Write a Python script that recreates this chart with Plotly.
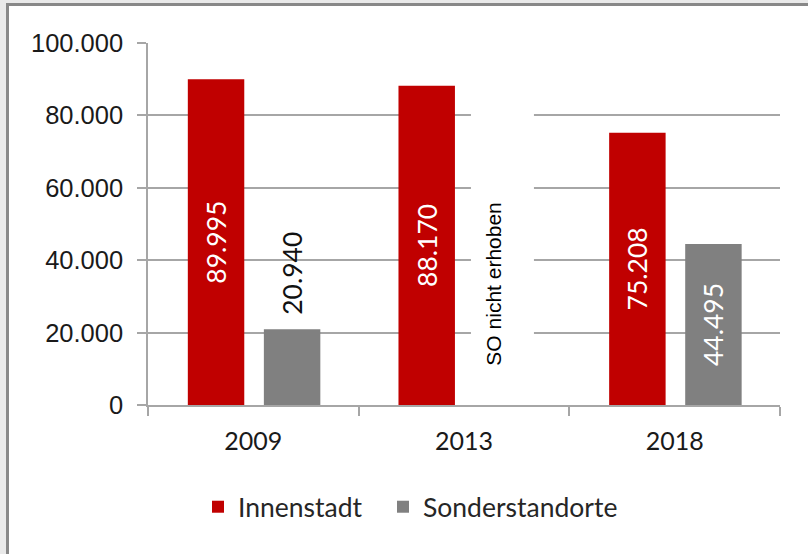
import plotly.graph_objects as go

# ---- data ----
years = ["2009", "2013", "2018"]
innenstadt = [89995, 88170, 75208]
sonderstandorte = [20940, None, 44495]
so_placeholder = [None, 90000, None]          # white placeholder bar ("nicht erhoben")
placeholder_text = "SO nicht erhoben"
y_ticks = [0, 20000, 40000, 60000, 80000, 100000]

RED = "#C00000"
GRAY = "#808080"
CAL = "Lato"
ARIAL = "Liberation Sans"

# plot area geometry (px)
W, H = 808, 554
L, R, T, B = 148, 28, 43, 149
pw, ph = W - L - R, H - T - B

def px_x(x):
    return (x - L) / pw

def px_y(y):
    return (H - B - y) / ph

def de(v):
    return f"{v:,.0f}".replace(",", ".")

BAR_W = 0.268
RED_OFF = -0.311
GRAY_OFF = 0.050
fig = go.Figure()

fig.add_trace(go.Bar(
    x=years, y=innenstadt, name="Innenstadt",
    width=BAR_W, offset=RED_OFF,
    marker=dict(color=RED, line=dict(width=0)),
    text=[de(v) for v in innenstadt], textposition="inside", insidetextanchor="middle",
    textangle=-90, textfont=dict(family=CAL, size=26.5, color="white"),
    hoverinfo="skip", legend="legend",
))

so_text = [de(v) if (v is not None and v > 30000) else "" for v in sonderstandorte]
fig.add_trace(go.Bar(
    x=years, y=sonderstandorte, name="Sonderstandorte",
    width=BAR_W, offset=GRAY_OFF,
    marker=dict(color=GRAY, line=dict(width=0)),
    text=so_text, textposition="inside", insidetextanchor="middle",
    textangle=-90, textfont=dict(family=CAL, size=26.5, color="white"),
    hoverinfo="skip", legend="legend2",
))

fig.add_trace(go.Bar(
    x=years, y=so_placeholder, name="placeholder", showlegend=False,
    width=0.299, offset=0.033,
    marker=dict(color="white", line=dict(width=0)),
    hoverinfo="skip",
))

annotations = []
for i, v in enumerate(sonderstandorte):
    if v is not None and v <= 30000:
        annotations.append(dict(
            x=i + GRAY_OFF + BAR_W / 2, y=v, xref="x", yref="y", text=de(v),
            showarrow=False, textangle=-90, yanchor="bottom", yshift=12,
            font=dict(family=CAL, size=26.5, color="#111111"),
        ))
for i, v in enumerate(so_placeholder):
    if v is not None:
        annotations.append(dict(
            x=i + 0.142, y=33500, xref="x", yref="y", text=placeholder_text,
            showarrow=False, textangle=-90, yanchor="middle",
            font=dict(family=ARIAL, size=21, color="#000000"),
        ))

leg_common = dict(
    orientation="h", xanchor="left", y=px_y(507), yanchor="middle",
    font=dict(family=CAL, size=26.5, color="#262626"),
    bgcolor="rgba(0,0,0,0)",
)

fig.update_layout(
    width=W, height=H,
    margin=dict(l=L, r=R, t=T, b=B, pad=0),
    paper_bgcolor="#e9e9e9", plot_bgcolor="white",
    barmode="overlay",
    showlegend=True,
    legend=dict(x=px_x(198), **leg_common),
    legend2=dict(x=px_x(383), **leg_common),
    annotations=annotations,
    shapes=[dict(
        type="rect", xref="paper", yref="paper", layer="below",
        x0=px_x(7.5), x1=px_x(840), y0=px_y(4.5), y1=px_y(600),
        fillcolor="white", line=dict(color="#888888", width=3),
    )],
    separators=",.",
)

fig.update_xaxes(
    type="category", categoryorder="array", categoryarray=years,
    range=[-0.5, 2.5],
    showline=True, linecolor="#a6a6a6", linewidth=1.5,
    ticks="outside", tickson="boundaries", ticklen=9, tickcolor="#a6a6a6", tickwidth=1.5,
    showgrid=False, zeroline=False, automargin=False, ticklabelstandoff=13,
    tickfont=dict(family=CAL, size=25, color="#1a1a1a"),
)
fig.update_yaxes(
    range=[0, 100000], tickvals=y_ticks, tickformat=",.0f",
    showline=True, linecolor="#a6a6a6", linewidth=1.5,
    ticks="outside", ticklen=9, tickcolor="#a6a6a6", tickwidth=1.5,
    showgrid=True, gridcolor="#a6a6a6", gridwidth=1.5, zeroline=False,
    automargin=False, ticklabelstandoff=9,
    tickfont=dict(family=ARIAL, size=25.5, color="#1a1a1a"),
)

fig.write_html("out.html", config={"displayModeBar": False},
               post_script="document.body.style.margin='0px';")
